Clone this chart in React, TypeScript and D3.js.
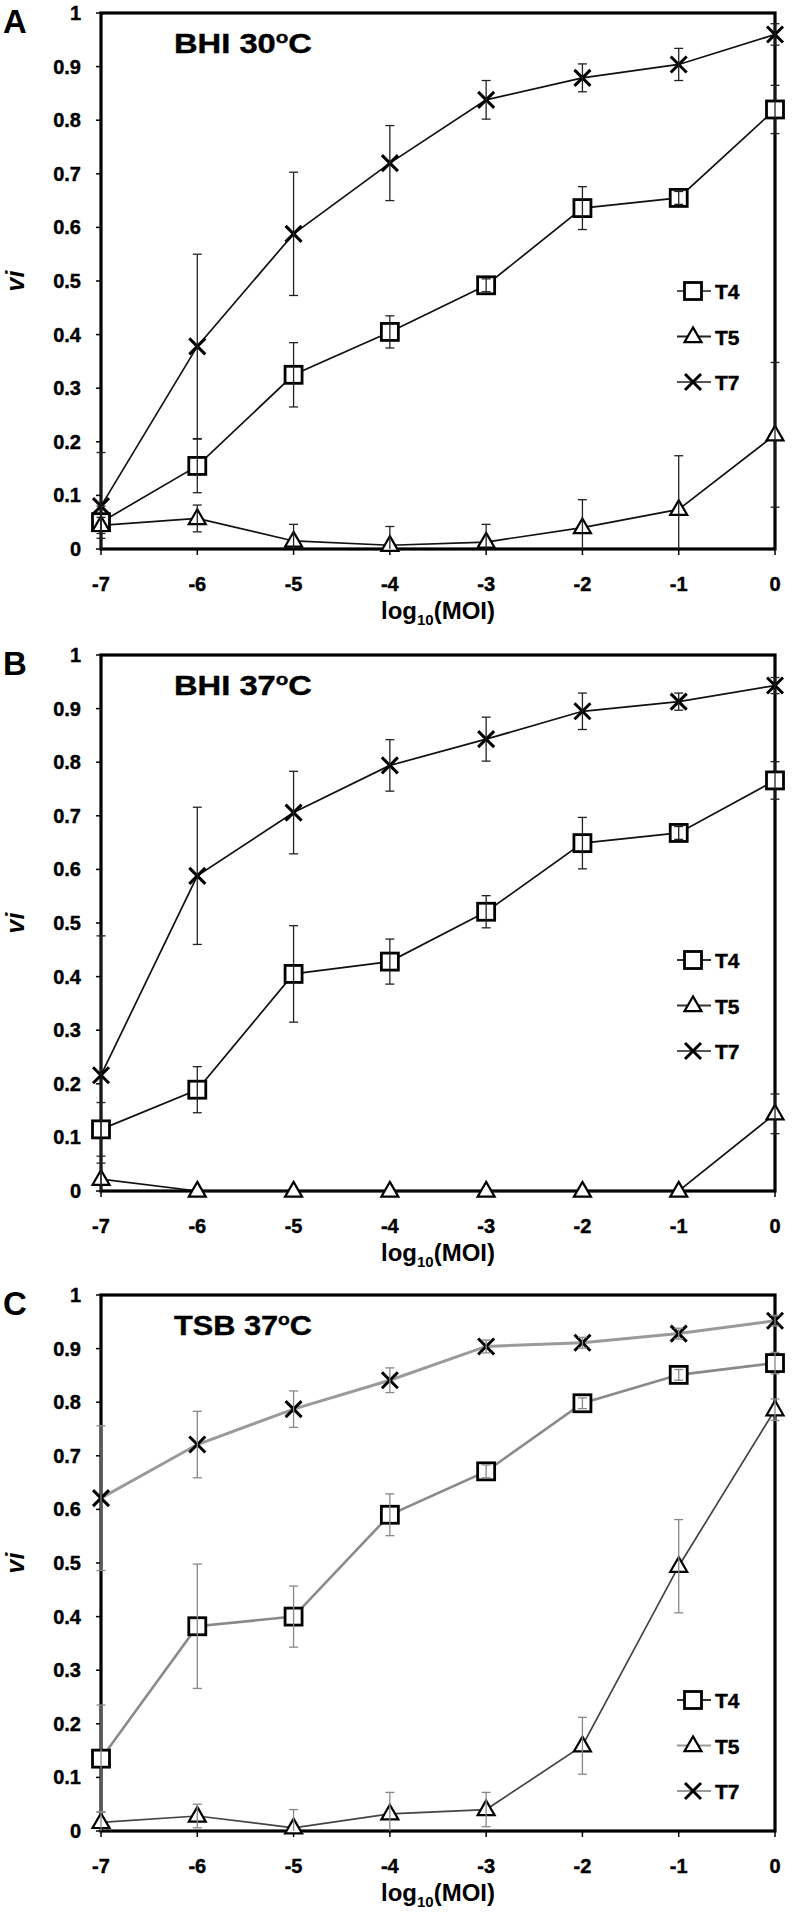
import React from "react";
import * as d3 from "d3";

const xValues = [-7, -6, -5, -4, -3, -2, -1, 0];
const xTickLabels = ["-7", "-6", "-5", "-4", "-3", "-2", "-1", "0"];
const yTickValues = [0, 0.1, 0.2, 0.3, 0.4, 0.5, 0.6, 0.7, 0.8, 0.9, 1];
const yTickLabels = ["0", "0.1", "0.2", "0.3", "0.4", "0.5", "0.6", "0.7", "0.8", "0.9", "1"];
const seriesNames = ["T4", "T5", "T7"];
const panelLetters = ["A", "B", "C"];
const panelMedia = ["BHI 30", "BHI 37", "TSB 37"];

// Panel A
const A_T4 = [0.05, 0.155, 0.325, 0.405, 0.492, 0.636, 0.655, 0.82];
const A_T4_err = [0.03, 0.05, 0.06, 0.03, 0.012, 0.04, 0.012, 0.045];
const A_T5 = [0.044, 0.057, 0.015, 0.007, 0.013, 0.04, 0.074, 0.213];
const A_T5_err = [0.015, 0.025, 0.031, 0.035, 0.033, 0.052, 0.1, 0.135];
const A_T7 = [0.08, 0.378, 0.588, 0.72, 0.838, 0.879, 0.904, 0.96];
const A_T7_err = [0.1, 0.172, 0.115, 0.07, 0.036, 0.026, 0.03, 0.02];

// Panel B
const B_T4 = [0.115, 0.189, 0.405, 0.428, 0.521, 0.649, 0.668, 0.766];
const B_T4_err = [0.05, 0.043, 0.09, 0.042, 0.03, 0.048, 0.012, 0.035];
const B_T5 = [0.022, 0, 0, 0, 0, 0, 0, 0.144];
const B_T5_err = [0.03, 0, 0, 0, 0, 0, 0, 0.037];
const B_T7 = [0.216, 0.588, 0.706, 0.794, 0.843, 0.895, 0.913, 0.943];
const B_T7_err = [0.26, 0.128, 0.077, 0.048, 0.041, 0.034, 0.016, 0.015];

// Panel C
const C_T4 = [0.135, 0.382, 0.4, 0.59, 0.671, 0.798, 0.851, 0.873];
const C_T4_err = [0.1, 0.116, 0.057, 0.039, 0.012, 0.01, 0.01, 0.02];
const C_T5 = [0.016, 0.028, 0.006, 0.032, 0.04, 0.159, 0.494, 0.786];
const C_T5_err = [0.02, 0.022, 0.034, 0.04, 0.032, 0.053, 0.087, 0.02];
const C_T7 = [0.621, 0.721, 0.787, 0.841, 0.904, 0.911, 0.928, 0.952];
const C_T7_err = [0.135, 0.062, 0.034, 0.023, 0.012, 0.01, 0.01, 0.01];

const panelsData = [
  { values: [A_T4, A_T5, A_T7], errors: [A_T4_err, A_T5_err, A_T7_err] },
  { values: [B_T4, B_T5, B_T7], errors: [B_T4_err, B_T5_err, B_T7_err] },
  { values: [C_T4, C_T5, C_T7], errors: [C_T4_err, C_T5_err, C_T7_err] },
];

const W = 792;
const H = 1914;
const LEFT = 101;
const RIGHT = 775;
const PANEL_TOPS = [13, 655, 1295];
const PANEL_H = 536;
const LEGEND_TOPS = [278, 305, 405];
const FONT = "'Liberation Sans', Arial, sans-serif";

type Styles = { line: string[]; lineW: number[]; err: string; legLine: string[] };
const panelStyles: Styles[] = [
  { line: ["#111", "#111", "#111"], lineW: [1.7, 1.7, 1.7], err: "#222", legLine: ["#555", "#222", "#555"] },
  { line: ["#111", "#111", "#111"], lineW: [1.7, 1.7, 1.7], err: "#222", legLine: ["#333", "#333", "#555"] },
  { line: ["#8a8a8a", "#444", "#9a9a9a"], lineW: [2.6, 1.7, 3], err: "#888", legLine: ["#333", "#999", "#999"] },
];

function Marker({ kind, x, y }: { kind: number; x: number; y: number }) {
  if (kind === 0) {
    const s = 17;
    return <rect x={x - s / 2} y={y - s / 2} width={s} height={s} fill="#fff" stroke="#000" strokeWidth={2.8} />;
  }
  if (kind === 1) {
    const s = 17;
    const h = s * 0.866;
    const pts = [
      [x, y - h * 0.62],
      [x + s / 2, y + h * 0.38],
      [x - s / 2, y + h * 0.38],
    ];
    return <polygon points={pts.map((p) => p.join(",")).join(" ")} fill="#fff" stroke="#000" strokeWidth={2.2} />;
  }
  const a = 8;
  return (
    <g stroke="#000" strokeWidth={3}>
      <line x1={x - a} y1={y - a} x2={x + a} y2={y + a} />
      <line x1={x - a} y1={y + a} x2={x + a} y2={y - a} />
    </g>
  );
}

const boldText = { stroke: "#000", strokeWidth: 0.4 };

function Panel({ index }: { index: number }) {
  const top = PANEL_TOPS[index];
  const bottom = top + PANEL_H;
  const x = d3.scaleLinear().domain([-7, 0]).range([LEFT, RIGHT]);
  const y = d3.scaleLinear().domain([0, 1]).range([bottom, top]);
  const data = panelsData[index];
  const st = panelStyles[index];
  const lineGen = d3
    .line<number>()
    .x((_, i) => x(xValues[i]))
    .y((d) => y(d));
  const legTop = top + LEGEND_TOPS[index];
  const cap = 4.5;
  return (
    <g>
      <text x={3} y={top + 20} fontFamily={FONT} fontWeight="bold" fontSize={33}>
        {panelLetters[index]}
      </text>
      {yTickValues.map((v, i) => (
        <g key={"yt" + i}>
          <line x1={LEFT - 5} x2={LEFT} y1={y(v)} y2={y(v)} stroke="#000" strokeWidth={1.5} />
          <text
            x={LEFT - 20}
            y={y(v) + 7}
            textAnchor="end"
            fontFamily={FONT}
            fontWeight="bold"
            fontSize={20}
            {...boldText}
          >
            {yTickLabels[i]}
          </text>
        </g>
      ))}
      {xValues.map((v, i) => (
        <g key={"xt" + i}>
          <line x1={x(v)} x2={x(v)} y1={bottom} y2={bottom + 6} stroke="#000" strokeWidth={1.5} />
          <text
            x={x(v)}
            y={bottom + 42}
            textAnchor="middle"
            fontFamily={FONT}
            fontWeight="bold"
            fontSize={20}
            {...boldText}
          >
            {xTickLabels[i]}
          </text>
        </g>
      ))}
      <rect x={LEFT} y={top} width={RIGHT - LEFT} height={PANEL_H} fill="none" stroke="#000" strokeWidth={3.2} />
      <text
        transform={`translate(${24},${(top + bottom) / 2}) rotate(-90)`}
        textAnchor="middle"
        fontFamily={FONT}
        fontWeight="bold"
        fontStyle="italic"
        fontSize={25}
      >
        vi
      </text>
      <text x={(LEFT + RIGHT) / 2} y={bottom + 70} textAnchor="middle" fontFamily={FONT} fontWeight="bold" fontSize={24}>
        log
        <tspan fontSize={15} dy={6}>
          10
        </tspan>
        <tspan dy={-6}>(MOI)</tspan>
      </text>
      <text
        x={174}
        y={top + 40}
        fontFamily={FONT}
        fontWeight="bold"
        fontSize={27}
        textLength={138}
        lengthAdjust="spacingAndGlyphs"
        {...boldText}
      >
        {panelMedia[index]}
        <tspan fontSize={17} dy={-10}>
          o
        </tspan>
        <tspan dy={10}>C</tspan>
      </text>
      {data.values.map((vals, s) => (
        <path key={"l" + s} d={lineGen(vals) || ""} fill="none" stroke={st.line[s]} strokeWidth={st.lineW[s]} />
      ))}
      {data.values.map((vals, s) =>
        vals.map((v, i) => <Marker key={"m" + s + "-" + i} kind={s} x={x(xValues[i])} y={y(v)} />)
      )}
      {data.values.map((vals, s) =>
        vals.map((v, i) => {
          const e = data.errors[s][i];
          if (!e) return null;
          const cx = x(xValues[i]);
          const y1 = y(Math.min(1, v + e));
          const y2 = y(Math.max(0, v - e));
          return (
            <g key={"e" + s + "-" + i} stroke={st.err} strokeWidth={1.3}>
              <line x1={cx} x2={cx} y1={y1} y2={y2} />
              {v + e <= 1 && <line x1={cx - cap} x2={cx + cap} y1={y1} y2={y1} />}
              {v - e >= 0 && <line x1={cx - cap} x2={cx + cap} y1={y2} y2={y2} />}
            </g>
          );
        })
      )}
      {seriesNames.map((name, s) => {
        const ly = legTop + s * 45.5;
        return (
          <g key={"lg" + s}>
            <line x1={677} x2={711} y1={ly} y2={ly} stroke={st.legLine[s]} strokeWidth={2.2} />
            <Marker kind={s} x={693} y={ly} />
            <text x={715} y={ly + 8} fontFamily={FONT} fontWeight="bold" fontSize={21} {...boldText}>
              {name}
            </text>
          </g>
        );
      })}
    </g>
  );
}

export default function App() {
  return (
    <svg width={W} height={H} style={{ position: "absolute", left: 0, top: 0, background: "#fff" }}>
      <rect width={W} height={H} fill="#fff" />
      {[0, 1, 2].map((i) => (
        <Panel key={i} index={i} />
      ))}
    </svg>
  );
}
